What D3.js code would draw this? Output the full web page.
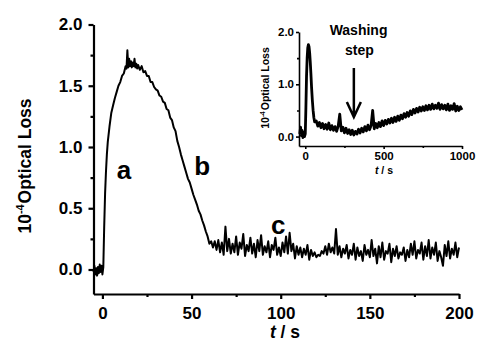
<!DOCTYPE html>
<html>
<head>
<meta charset="utf-8">
<script src="https://cdn.jsdelivr.net/npm/d3@7"></script>
<style>
  body { margin: 0; background: #fff; }
  svg text { font-family: "Liberation Sans", Arial, sans-serif; font-weight: bold; fill: #000; }
</style>
</head>
<body>
<svg id="chart" width="478" height="343"></svg>
<script>
// main trace: fast part read point by point
const riseTime = [-5, -4.5, -4, -3.5, -3, -2.5, -2, -1.5, -1, -0.5, 0, 0.5, 1, 1.5, 2, 2.5, 3, 4, 5, 6, 7, 8, 9, 10, 11, 12, 13, 13.5, 14, 14.5, 15, 15.5, 16, 16.5, 17, 17.5, 18, 18.5, 19, 19.5, 20, 21, 22, 23, 24, 25, 26, 27, 28, 29, 30, 31, 32, 33, 34, 35, 36, 37, 38, 39, 40, 41, 42, 43, 44, 45, 46, 47, 48, 49, 50, 51, 52, 53, 54, 55, 56, 57, 58, 59, 60, 61, 62, 63];
const riseLoss = [-0.02, 0.03, -0.04, 0.01, -0.05, 0.02, -0.03, 0.04, -0.02, 0.03, -0.04, 0.02, 0.35, 0.62, 0.80, 0.94, 1.04, 1.17, 1.28, 1.34, 1.40, 1.45, 1.50, 1.53, 1.58, 1.60, 1.66, 1.64, 1.79, 1.65, 1.72, 1.66, 1.70, 1.65, 1.69, 1.66, 1.72, 1.65, 1.68, 1.64, 1.67, 1.63, 1.66, 1.61, 1.62, 1.58, 1.58, 1.53, 1.53, 1.49, 1.47, 1.46, 1.42, 1.41, 1.37, 1.36, 1.31, 1.30, 1.24, 1.22, 1.16, 1.13, 1.05, 1.00, 0.94, 0.89, 0.84, 0.79, 0.74, 0.71, 0.66, 0.61, 0.57, 0.53, 0.48, 0.45, 0.40, 0.36, 0.31, 0.27, 0.21, 0.23, 0.18, 0.23];

// main trace: noisy tail, one reading per second from 64 s
const tailStart = 64;
const tailLoss = [
  0.16, 0.24, 0.14, 0.22, 0.12, 0.35, 0.15, 0.25, 0.13, 0.21,
  0.14, 0.27, 0.12, 0.22, 0.17, 0.29, 0.11, 0.20, 0.15, 0.26,
  0.13, 0.21, 0.10, 0.24, 0.15, 0.28, 0.12, 0.19, 0.14, 0.23,
  0.10, 0.20, 0.16, 0.26, 0.12, 0.18, 0.11, 0.22, 0.14, 0.27,
  0.13, 0.30, 0.15, 0.21, 0.09, 0.19, 0.12, 0.18, 0.10, 0.17,
  0.12, 0.20, 0.08, 0.16, 0.11, 0.14, 0.10, 0.12, 0.11, 0.15,
  0.13, 0.19, 0.12, 0.21, 0.14, 0.18, 0.13, 0.33, 0.12, 0.19,
  0.10, 0.17, 0.13, 0.20, 0.09, 0.16, 0.12, 0.21, 0.08, 0.18,
  0.11, 0.15, 0.07, 0.20, 0.12, 0.16, 0.10, 0.24, 0.11, 0.17,
  0.05, 0.19, 0.10, 0.22, 0.08, 0.15, 0.13, 0.21, 0.06, 0.17,
  0.11, 0.19, 0.09, 0.14, 0.12, 0.18, 0.07, 0.16, 0.10, 0.21,
  0.12, 0.23, 0.09, 0.16, 0.13, 0.22, 0.08, 0.19, 0.11, 0.24,
  0.09, 0.18, 0.12, 0.22, 0.07, 0.15, 0.10, 0.03, 0.20, 0.11,
  0.23, 0.09, 0.17, 0.12, 0.22, 0.10, 0.18
];

// inset trace: peak read point by point, then every 10 s from 70 s
const insetPeakTime = [-35, -30, -25, -20, -15, -10, -5, 0, 4, 8, 12, 16, 20, 24, 28, 32, 36, 40, 45, 50, 55, 60];
const insetPeakLoss = [0.05, 0.18, 0.02, 0.12, -0.02, 0.08, 0.00, 0.05, 0.55, 1.15, 1.50, 1.70, 1.76, 1.72, 1.60, 1.42, 1.20, 0.95, 0.70, 0.50, 0.36, 0.28];
const insetTailStart = 70;
const insetTailLoss = [
  0.30, 0.20, 0.27, 0.17, 0.25, 0.15, 0.23, 0.14, 0.26, 0.13,
  0.21, 0.12, 0.19, 0.10, 0.20, 0.43, 0.11, 0.18, 0.07, 0.16,
  0.06, 0.13, 0.04, 0.12, 0.03, 0.10, 0.05, 0.14, 0.07, 0.16,
  0.09, 0.19, 0.11, 0.22, 0.13, 0.21, 0.50, 0.15, 0.25, 0.17,
  0.27, 0.19, 0.30, 0.21, 0.31, 0.24, 0.33, 0.26, 0.35, 0.27,
  0.37, 0.29, 0.39, 0.31, 0.41, 0.34, 0.44, 0.37, 0.46, 0.39,
  0.49, 0.42, 0.52, 0.45, 0.54, 0.47, 0.56, 0.49, 0.57, 0.50,
  0.59, 0.51, 0.60, 0.52, 0.62, 0.53, 0.60, 0.54, 0.64, 0.52,
  0.61, 0.53, 0.60, 0.51, 0.62, 0.50, 0.59, 0.52, 0.63, 0.49,
  0.58, 0.50, 0.57, 0.51
];

const mainXTicks = [0, 50, 100, 150, 200];
const mainXMinor = [25, 75, 125, 175];
const mainYTicks = [0, 0.5, 1.0, 1.5, 2.0];
const mainYMinor = [0.25, 0.75, 1.25, 1.75];
const insetXTicks = [0, 500, 1000];
const insetXMinor = [250, 750];
const insetYTicks = [0, 1.0, 2.0];
const insetYMinor = [0.5, 1.5];
const peakLabels = [
  { text: 'a', t: 8, v: 0.74 },
  { text: 'b', t: 51.5, v: 0.77 },
  { text: 'c', t: 94.5, v: 0.29 }
];

const svg = d3.select('#chart');

const toPoints = (times, values) => times.map((t, i) => [t, values[i]]);
const mainData = toPoints(riseTime, riseLoss)
  .concat(tailLoss.map((v, i) => [tailStart + i, v]));
const insetData = toPoints(insetPeakTime, insetPeakLoss)
  .concat(insetTailLoss.map((v, i) => [insetTailStart + i * 10, v]));

function drawPanel(g, opt) {
  const x = d3.scaleLinear().domain(opt.xDomain).range(opt.xRange);
  const y = d3.scaleLinear().domain(opt.yDomain).range(opt.yRange);

  const bottom = opt.yRange[0];
  const left = opt.xRange[0];

  // minor ticks first, no labels
  g.append('g')
    .attr('transform', `translate(0,${bottom})`)
    .call(d3.axisBottom(x).tickValues(opt.xMinor).tickSize(opt.minor).tickFormat(''))
    .call(a => a.select('.domain').remove())
    .call(a => a.selectAll('line').attr('stroke-width', opt.axisW));
  g.append('g')
    .attr('transform', `translate(${left},0)`)
    .call(d3.axisLeft(y).tickValues(opt.yMinor).tickSize(opt.minor).tickFormat(''))
    .call(a => a.select('.domain').remove())
    .call(a => a.selectAll('line').attr('stroke-width', opt.axisW));

  const xa = g.append('g')
    .attr('transform', `translate(0,${bottom})`)
    .call(d3.axisBottom(x).tickValues(opt.xTicks).tickFormat(d3.format('d'))
      .tickSize(opt.major).tickSizeOuter(0).tickPadding(opt.xPad));
  const ya = g.append('g')
    .attr('transform', `translate(${left},0)`)
    .call(d3.axisLeft(y).tickValues(opt.yTicks).tickFormat(d3.format('.1f'))
      .tickSize(opt.major).tickSizeOuter(0).tickPadding(opt.yPad));

  [xa, ya].forEach(a => {
    a.select('.domain').attr('stroke-width', opt.axisW);
    a.selectAll('line').attr('stroke-width', opt.axisW);
    a.selectAll('text')
      .attr('font-family', '"Liberation Sans", Arial, sans-serif')
      .attr('font-weight', 'bold')
      .attr('font-size', opt.tickFont);
  });

  const line = d3.line().x(d => x(d[0])).y(d => y(d[1]));
  g.append('path')
    .datum(opt.data)
    .attr('fill', 'none')
    .attr('stroke', '#000')
    .attr('stroke-width', opt.lineW)
    .attr('stroke-linejoin', 'round')
    .attr('d', line);

  // y title: 10^-4 Optical Loss
  const yt = g.append('text')
    .attr('transform', `translate(${opt.yTitleX},${opt.yTitleY}) rotate(-90)`)
    .attr('text-anchor', 'middle')
    .attr('font-size', opt.titleFont);
  yt.append('tspan').text('10');
  yt.append('tspan').attr('font-size', opt.titleFont * 0.62).attr('dy', -opt.titleFont * 0.38).text('-4');
  yt.append('tspan').attr('dy', opt.titleFont * 0.38).attr('dx', 1).text('Optical Loss');

  // x title: t / s
  const xt = g.append('text')
    .attr('x', opt.xTitleX)
    .attr('y', opt.xTitleY)
    .attr('text-anchor', 'middle')
    .attr('font-size', opt.titleFont);
  xt.append('tspan').attr('font-style', 'italic').text('t');
  xt.append('tspan').text(' / s');

  return { x, y };
}

const main = drawPanel(svg.append('g'), {
  data: mainData,
  xDomain: [-5, 200], xRange: [93.5, 459],
  yDomain: [-0.2, 2.0], yRange: [294, 24.5],
  xTicks: mainXTicks, xMinor: mainXMinor, yTicks: mainYTicks, yMinor: mainYMinor,
  major: 5, minor: 3, axisW: 2.2, lineW: 2,
  xPad: 8, yPad: 6, tickFont: 17,
  titleFont: 17.5, yTitleX: 31, yTitleY: 166,
  xTitleX: 285, xTitleY: 338
});

peakLabels.forEach(p => {
  svg.append('text')
    .attr('x', main.x(p.t))
    .attr('y', main.y(p.v))
    .attr('font-size', 26)
    .text(p.text);
});

const inset = drawPanel(svg.append('g'), {
  data: insetData,
  xDomain: [-40, 1000], xRange: [299, 462],
  yDomain: [-0.18, 2.0], yRange: [146, 32],
  xTicks: insetXTicks, xMinor: insetXMinor, yTicks: insetYTicks, yMinor: insetYMinor,
  major: 3, minor: 2, axisW: 1.6, lineW: 2.8,
  xPad: 3, yPad: 2, tickFont: 11.5,
  titleFont: 10.5, yTitleX: 269, yTitleY: 88,
  xTitleX: 384, xTitleY: 174
});

// washing step annotation
const wash = svg.append('text')
  .attr('text-anchor', 'middle')
  .attr('font-size', 14);
wash.append('tspan').attr('x', inset.x(340)).attr('y', 35).text('Washing');
wash.append('tspan').attr('x', inset.x(345)).attr('y', 55).text('step');

const ax = inset.x(310);
svg.append('path')
  .attr('d', `M${ax},68 L${ax},117 M${ax - 7},102 L${ax},117 L${ax + 7},102`)
  .attr('fill', 'none')
  .attr('stroke', '#000')
  .attr('stroke-width', 2.5);
</script>
</body>
</html>
